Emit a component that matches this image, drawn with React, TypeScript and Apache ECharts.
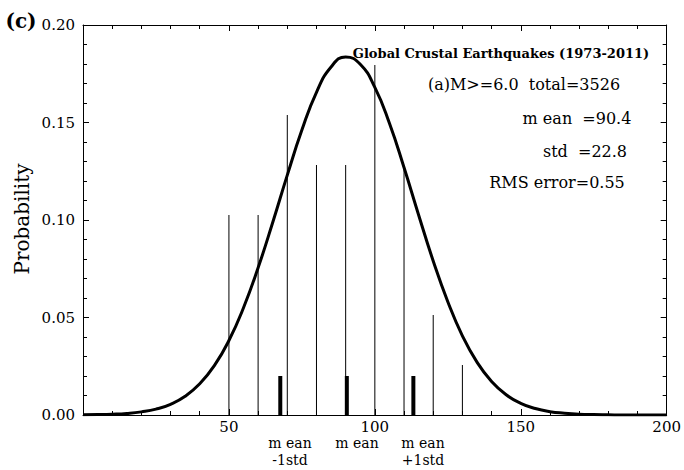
import React, { useEffect, useRef } from "react";
import * as echarts from "echarts";

// Histogram bins (bin centre, probability)
const binCenters = [50, 60, 70, 80, 90, 100, 110, 120, 130];
const binProb = [0.1026, 0.1026, 0.1538, 0.1282, 0.1282, 0.1795, 0.1265, 0.0513, 0.0256];

// Mean / mean±1std markers
const markerX = [67.6, 90.4, 113.2];
const markerH = [0.02, 0.02, 0.02];

// Fitted curve
const curveX = [0, 5, 10, 15, 20, 25, 30, 35, 40, 45, 50, 55, 60, 65, 70, 75, 80, 85, 90, 95, 100,
  105, 110, 115, 120, 125, 130, 135, 140, 145, 150, 155, 160, 165, 170, 175, 180, 185, 190, 195, 200];
const curveY = [0.0001, 0.0002, 0.0004, 0.0008, 0.0016, 0.003, 0.0055, 0.0096, 0.016, 0.0253, 0.0382,
  0.055, 0.0755, 0.0987, 0.123, 0.1461, 0.1655, 0.1785, 0.1836, 0.1799, 0.168,
  0.1496, 0.1269, 0.1026, 0.079, 0.0581, 0.0406, 0.0271, 0.0172, 0.0104, 0.006,
  0.0033, 0.0017, 0.0009, 0.0004, 0.0002, 0.0001, 0.0, 0.0, 0.0, 0.0];

const xTicks = { min: 0, max: 200, interval: 50 };
const yTicks = { min: 0, max: 0.2, interval: 0.05 };

const SERIF = "DejaVu Serif";

export default function App() {
  const ref = useRef<HTMLDivElement>(null);
  useEffect(() => {
    if (!ref.current) return;
    const chart = echarts.init(ref.current, null, { renderer: "svg" });

    const axisCommon = {
      axisLine: { show: true, onZero: false, lineStyle: { color: "#000", width: 1 } },
      axisTick: { show: true, inside: true, length: 6, lineStyle: { color: "#000" } },
      minorTick: { show: true, splitNumber: 5, length: 4, lineStyle: { color: "#000" } },
      splitLine: { show: false },
      minorSplitLine: { show: false },
    };

    const vbar = (width: number) => (params: any, api: any) => {
      const x = api.value(0);
      const y = api.value(1);
      const top = api.coord([x, y]);
      const bottom = api.coord([x, 0]);
      return {
        type: "rect",
        shape: { x: top[0] - width / 2, y: top[1], width, height: bottom[1] - top[1] },
        style: { fill: "#000" },
      };
    };

    const txt = (text: string, x: number, y: number, size: number, weight = "normal") => ({
      type: "text",
      x,
      y,
      style: {
        text,
        fontFamily: SERIF,
        fontSize: size,
        fontWeight: weight,
        fill: "#000",
        textAlign: "center",
        textVerticalAlign: "middle",
      },
    });

    chart.setOption({
      animation: false,
      backgroundColor: "#fff",
      grid: { left: 83, right: 13, top: 25, bottom: 55 },
      xAxis: [
        {
          type: "value",
          position: "bottom",
          ...xTicks,
          ...axisCommon,
          axisLabel: {
            margin: 5,
            color: "#000",
            fontFamily: SERIF,
            fontSize: 15,
            lineHeight: 14,
            formatter: (v: number) => (v === 0 ? "" : String(v)),
          },
        },
        {
          type: "value",
          position: "top",
          ...xTicks,
          ...axisCommon,
          axisLabel: { show: false },
        },
      ],
      yAxis: [
        {
          type: "value",
          position: "left",
          ...yTicks,
          ...axisCommon,
          axisLabel: {
            margin: 8,
            color: "#000",
            fontFamily: SERIF,
            fontSize: 15,
            formatter: (v: number) => v.toFixed(2),
          },
        },
        {
          type: "value",
          position: "right",
          ...yTicks,
          ...axisCommon,
          axisLabel: { show: false },
        },
      ],
      series: [
        {
          type: "custom",
          renderItem: vbar(1),
          data: binCenters.map((c, i) => [c, binProb[i]]),
          z: 2,
        },
        {
          type: "custom",
          renderItem: vbar(4),
          data: markerX.map((c, i) => [c, markerH[i]]),
          z: 3,
        },
        {
          type: "line",
          data: curveX.map((x, i) => [x, curveY[i]]),
          smooth: true,
          symbol: "none",
          lineStyle: { color: "#000", width: 3 },
          z: 4,
        },
      ],
      graphic: [
        txt("(c)", 21, 21, 20, "bold"),
        {
          type: "text",
          x: 22,
          y: 219,
          rotation: Math.PI / 2,
          style: {
            text: "Probability",
            fontFamily: SERIF,
            fontSize: 20,
            fill: "#000",
            textAlign: "center",
            textVerticalAlign: "middle",
          },
        },
        txt("Global Crustal Earthquakes (1973-2011)", 501, 53, 13, "bold"),
        txt("(a)M>=6.0  total=3526", 524, 84, 16),
        txt("m ean  =90.4", 577, 118, 16),
        txt("std  =22.8", 585, 151, 16),
        txt("RMS error=0.55", 557, 182, 16),
        txt("m ean", 290, 443, 14),
        txt("-1std", 290, 460, 14),
        txt("m ean", 357, 443, 14),
        txt("m ean", 423, 443, 14),
        txt("+1std", 423, 460, 14),
      ],
    });
    return () => chart.dispose();
  }, []);
  return (
    <div
      ref={ref}
      style={{ position: "fixed", left: 0, top: 0, width: 684, height: 470, background: "#fff" }}
    />
  );
}
